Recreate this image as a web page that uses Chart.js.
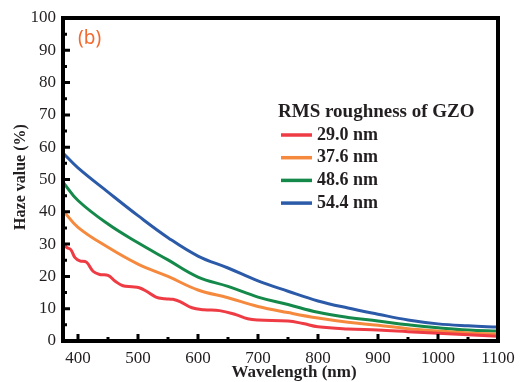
<!DOCTYPE html>
<html>
<head>
<meta charset="utf-8">
<script src="https://cdn.jsdelivr.net/npm/chart.js@4/dist/chart.umd.min.js"></script>
<style>
  html, body { margin: 0; padding: 0; background: #fff; }
  #wrap { width: 525px; height: 382px; }
</style>
</head>
<body>
<div id="wrap"><canvas id="haze"></canvas></div>
<script>
// wavelength grid (nm)
var wlRed = [375, 381, 388, 395, 403, 414, 425, 436, 450, 462, 475, 490, 502, 514, 530, 545, 558, 570, 590, 610, 636, 661, 683, 700, 750, 775, 800, 850, 900, 950, 1000, 1050, 1100];
var wlCommon = [375, 400, 450, 500, 550, 600, 650, 700, 750, 800, 850, 900, 950, 1000, 1050, 1100];

// haze (%)
var haze290 = [30.5, 29.0, 28.3, 25.8, 24.8, 24.4, 21.6, 20.6, 20.3, 18.5, 17.1, 16.8, 16.5, 15.4, 13.6, 13.1, 12.9, 12.2, 10.3, 9.7, 9.4, 8.3, 6.9, 6.5, 6.2, 5.4, 4.4, 3.7, 3.4, 2.9, 2.4, 1.9, 1.5];
var haze376 = [40.4, 35.2, 29.0, 23.8, 20.0, 15.8, 13.4, 10.7, 8.8, 7.1, 5.8, 4.9, 3.8, 3.1, 2.5, 2.1];
var haze486 = [49.2, 43.5, 36.2, 30.4, 25.1, 19.8, 16.9, 13.6, 11.3, 8.9, 7.3, 6.2, 5.0, 4.1, 3.4, 3.1];
var haze544 = [58.2, 53.6, 46.1, 38.8, 32.0, 26.3, 22.6, 18.6, 15.4, 12.4, 10.2, 8.3, 6.5, 5.3, 4.7, 4.3];

var seriesLabels = ['29.0 nm', '37.6 nm', '48.6 nm', '54.4 nm'];
var seriesColors = ['#ee3b44', '#f58a3e', '#14894a', '#2b5aa8'];

var xTicks = [400, 500, 600, 700, 800, 900, 1000, 1100];
var xMinor = [450, 550, 650, 750, 850, 950, 1050];
var yTicks = [0, 10, 20, 30, 40, 50, 60, 70, 80, 90, 100];
var yMinor = [5, 15, 25, 35, 45, 55, 65, 75, 85, 95];

function pts(xs, ys) {
  var out = [];
  for (var i = 0; i < xs.length; i++) out.push({ x: xs[i], y: ys[i] });
  return out;
}

var serif = "'Liberation Serif', 'Times New Roman', serif";

// frame, inward ticks, in-plot legend, panel label, axis titles
var decor = {
  id: 'decor',
  afterDraw: function(chart) {
    var ctx = chart.ctx;
    var a = chart.chartArea;
    var xs = chart.scales.x, ys = chart.scales.y;
    ctx.save();
    ctx.strokeStyle = '#000';
    ctx.fillStyle = '#000';

    // ticks
    ctx.lineWidth = 3;
    ctx.beginPath();
    xTicks.forEach(function(v) {
      var px = xs.getPixelForValue(v);
      ctx.moveTo(px, a.bottom); ctx.lineTo(px, a.bottom - 7);
    });
    xMinor.forEach(function(v) {
      var px = xs.getPixelForValue(v);
      ctx.moveTo(px, a.bottom); ctx.lineTo(px, a.bottom - 4);
    });
    yTicks.forEach(function(v) {
      var py = ys.getPixelForValue(v);
      ctx.moveTo(a.left, py); ctx.lineTo(a.left + 7, py);
    });
    yMinor.forEach(function(v) {
      var py = ys.getPixelForValue(v);
      ctx.moveTo(a.left, py); ctx.lineTo(a.left + 4, py);
    });
    ctx.stroke();

    // frame
    ctx.lineWidth = 4;
    ctx.strokeRect(a.left, a.top, a.right - a.left, a.bottom - a.top);

    // legend
    ctx.fillStyle = '#231f20';
    ctx.font = 'bold 19px ' + serif;
    ctx.textBaseline = 'middle';
    ctx.textAlign = 'left';
    ctx.fillText('RMS roughness of GZO', 278, 112);
    ctx.font = 'bold 18px ' + serif;
    chart.data.datasets.forEach(function(ds, i) {
      var yy = 135 + i * 22.7;
      ctx.strokeStyle = ds.borderColor;
      ctx.lineWidth = 3.5;
      ctx.beginPath();
      ctx.moveTo(281, yy); ctx.lineTo(312, yy);
      ctx.stroke();
      ctx.fillText(ds.label, 317, yy);
    });

    // panel label
    ctx.fillStyle = '#f26a2e';
    ctx.font = "19px 'Noto Sans', sans-serif";
    ctx.fillText('(b)', 78, 39);

    // axis titles
    ctx.fillStyle = '#231f20';
    ctx.font = 'bold 17px ' + serif;
    ctx.textAlign = 'center';
    ctx.fillText('Wavelength (nm)', 294, 373);
    ctx.font = 'bold 16px ' + serif;
    ctx.translate(21, 177);
    ctx.rotate(-Math.PI / 2);
    ctx.fillText('Haze value (%)', 0, 0);
    ctx.restore();
  }
};

var datasets = [
  pts(wlRed, haze290),
  pts(wlCommon, haze376),
  pts(wlCommon, haze486),
  pts(wlCommon, haze544)
].map(function(d, i) {
  return {
    label: seriesLabels[i],
    data: d,
    borderColor: seriesColors[i],
    backgroundColor: seriesColors[i],
    borderWidth: 3,
    pointRadius: 0,
    tension: 0.4,
    fill: false
  };
});

var ctxHaze = document.getElementById('haze').getContext('2d');
var hazeChart = new Chart(ctxHaze, {
  type: 'line',
  data: { datasets: datasets },
  plugins: [decor],
  options: {
    responsive: true,
    maintainAspectRatio: false,
    animation: false,
    layout: { padding: { top: 18, right: 27, left: 0, bottom: 0 } },
    plugins: {
      legend: { display: false },
      tooltip: { enabled: false }
    },
    scales: {
      x: {
        type: 'linear',
        min: 375,
        max: 1100,
        afterBuildTicks: function(s) { s.ticks = xTicks.map(function(v) { return { value: v }; }); },
        afterFit: function(s) { s.height = 41; },
        grid: { display: false, drawTicks: false },
        border: { display: false },
        ticks: {
          color: '#231f20', padding: 7, maxRotation: 0,
          font: { family: serif, size: 17 },
          callback: function(v) { return String(v); }
        }
      },
      y: {
        min: 0,
        max: 100,
        afterBuildTicks: function(s) { s.ticks = yTicks.map(function(v) { return { value: v }; }); },
        afterFit: function(s) { s.width = 63; },
        grid: { display: false, drawTicks: false },
        border: { display: false },
        ticks: { color: '#231f20', padding: 7, font: { family: serif, size: 17 } }
      }
    }
  }
});
</script>
</body>
</html>
